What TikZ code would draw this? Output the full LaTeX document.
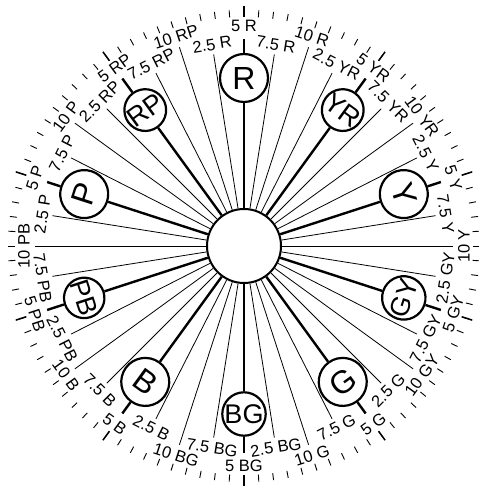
\documentclass[tikz,border=0pt]{standalone}
\usepackage{fontspec}
\setmainfont{Liberation Sans}
\usepackage{tikz}
\newcommand\huerot[1]{%
  \pgfmathsetmacro\nn{180-mod(180-(#1)+720,360)}%
  \pgfmathsetmacro\rot{ifthenelse(\nn>0,\nn-90,\nn+90)}}
\begin{document}
\begin{tikzpicture}[x=1pt,y=1pt,font=\fontsize{16.5}{16.5}\selectfont,
  ray/.style={line width=0.8pt},
  hueray/.style={line width=2.4pt},
  tick/.style={line width=0.9pt},
  bigtick/.style={line width=1.5pt},
  lbl/.style={inner sep=0pt},
  huering/.style={circle,draw,line width=2.2pt,inner sep=0pt}]
  \useasboundingbox (-244,-240) rectangle (234,246);
  \node[circle,draw,line width=2pt,minimum size=74pt,inner sep=0pt] (c) at (0,0) {};
  \foreach \j in {0,...,99}{\draw[tick] (90-3.6*\j:229) -- (90-3.6*\j:236);}
  \foreach \j in {0,...,9}{\draw[bigtick] (90-36*\j:229) -- (90-36*\j:240);}
  \foreach \h [count=\i from 0] in {R,YR,Y,GY,G,BG,B,PB,P,RP}{
    \pgfmathsetmacro\a{90-36*\i}
    \pgfmathsetmacro\hsz{ifthenelse(mod(\i,2)==0,48,40)}
    \pgfmathsetmacro\hf{ifthenelse(mod(\i,2)==0,32,27)}
    \huerot{\a}
    \node[huering,minimum size=\hsz pt,font=\fontsize{\hf}{\hf}\selectfont,rotate=\rot] (\h) at (\a:168) {\h};
    \foreach \s/\d/\r/\e [count=\q] in {2.5/9/204/194,5/0/220/207,7.5/-9/204/194,10/-18/220/209}{
      \pgfmathsetmacro\b{\a+\d}
      \huerot{\b}
      \node[lbl,rotate=\rot] (\h l\q) at (\b:\r) {\s\ \h};
      \coordinate (\h e\q) at (\b:\e);
      \ifnum\q=2
        \draw[hueray] (c) -- (\h);
        \draw[hueray] (\h) -- (\h e\q);
      \else
        \draw[ray] (c) -- (\h e\q);
      \fi
    }
  }
\end{tikzpicture}
\end{document}
